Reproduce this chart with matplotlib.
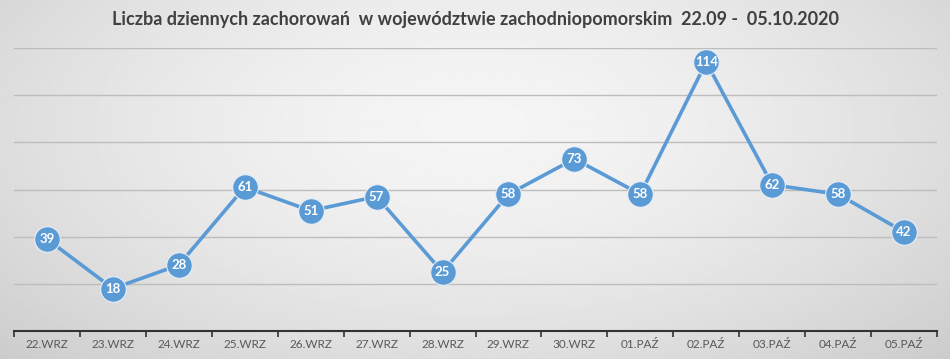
import numpy as np
import matplotlib.pyplot as plt

plt.rcParams['font.family'] = ['Lato', 'DejaVu Sans']

days = ['22.WRZ', '23.WRZ', '24.WRZ', '25.WRZ', '26.WRZ', '27.WRZ', '28.WRZ',
        '29.WRZ', '30.WRZ', '01.PAŹ', '02.PAŹ', '03.PAŹ', '04.PAŹ', '05.PAŹ']
cases = [39, 18, 28, 61, 51, 57, 25, 58, 73, 58, 114, 62, 58, 42]
title = 'Liczba dziennych zachorowań  w województwie zachodniopomorskim  22.09 -  05.10.2020'

fig = plt.figure(figsize=(9.5, 3.59), dpi=100)

# gray radial background
bg = fig.add_axes([0, 0, 1, 1], zorder=-10)
yy, xx = np.mgrid[0:1:200j, 0:1:400j]
r = np.sqrt(((xx - 0.5) / 0.75) ** 2 + ((yy - 0.35) / 1.0) ** 2)
shade = 0.96 - 0.18 * np.clip(r, 0, 1) ** 1.6
bg.imshow(shade, cmap='gray', vmin=0, vmax=1, aspect='auto', extent=[0, 1, 0, 1])
bg.axis('off')

ax = fig.add_axes([14 / 950, 28 / 359, 923 / 950, 283 / 359])
ax.patch.set_alpha(0)
x = np.arange(len(days))
ax.plot(x, cases, color='#5B9BD5', lw=2.6, zorder=3)
ax.scatter(x, cases, s=340, color='#5B9BD5', edgecolor='#E8EEF6', linewidth=0.8, zorder=4)
for xi, v in zip(x, cases):
    ax.text(xi, v, str(v), ha='center', va='center', color='white',
            fontsize=9.5, fontweight='bold', zorder=5)

ax.set_xlim(-0.5, len(days) - 0.5)
ax.set_ylim(0, 120)
ax.set_yticks(range(20, 121, 20))
ax.yaxis.grid(True, color='#BDBDBD', lw=1)
ax.set_axisbelow(True)
ax.tick_params(axis='y', length=0, labelleft=False)

ax.set_xticks(x)
ax.set_xticklabels(days, fontsize=8.5, color='#595959')
ax.set_xticks(np.arange(-0.5, len(days)), minor=True)
ax.tick_params(axis='x', which='major', length=0, pad=6)
ax.tick_params(axis='x', which='minor', length=4, width=1.2, color='#333333', direction='out')

for s in ['top', 'right', 'left']:
    ax.spines[s].set_visible(False)
ax.spines['bottom'].set_color('#333333')
ax.spines['bottom'].set_linewidth(1.5)

fig.text(0.5, 1 - 20 / 359, title, ha='center', va='center',
         fontsize=13, fontweight='bold', color='#404040')

fig.savefig('out.png', dpi=100)
